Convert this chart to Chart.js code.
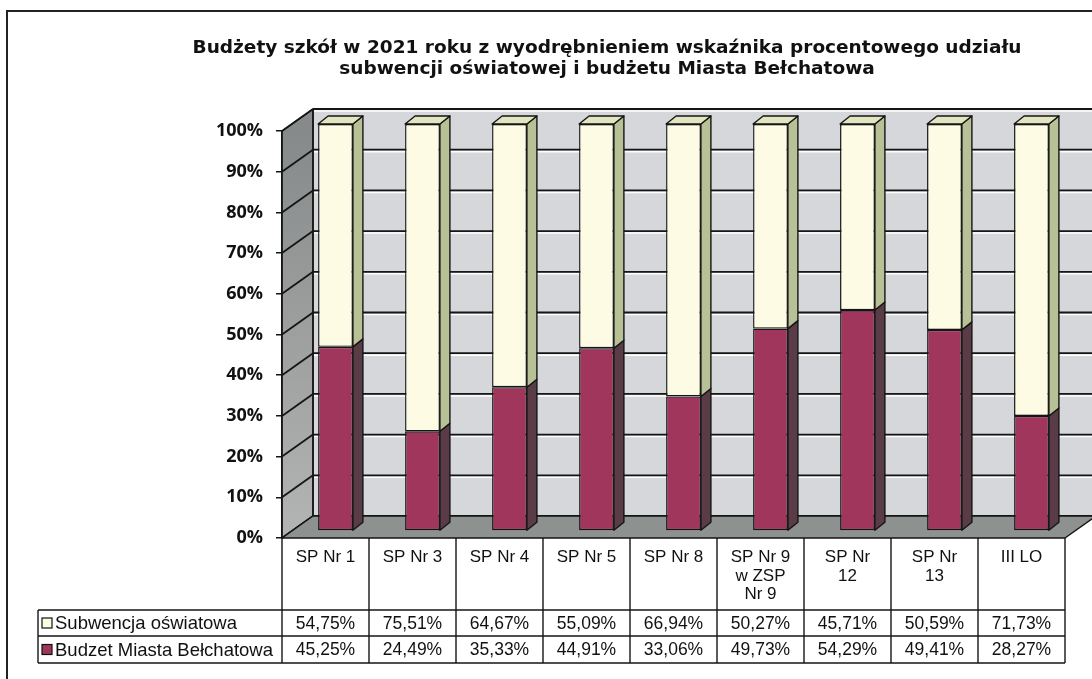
<!DOCTYPE html>
<html>
<head>
<meta charset="utf-8">
<title>Budżety szkół 2021</title>
<script src="https://cdn.jsdelivr.net/npm/chart.js@4.4.1/dist/chart.umd.min.js"></script>
<style>
  html, body { margin: 0; padding: 0; background: #fff; }
  canvas { display: block; }
</style>
</head>
<body>
<canvas id="budzetyChart" width="1092" height="679"></canvas>
<script>
const titleLines = [
  'Budżety szkół w 2021 roku z wyodrębnieniem wskaźnika procentowego udziału',
  'subwencji oświatowej i budżetu Miasta Bełchatowa'
];
const categories = [
  ['SP Nr 1'], ['SP Nr 3'], ['SP Nr 4'], ['SP Nr 5'], ['SP Nr 8'],
  ['SP Nr 9', 'w ZSP', 'Nr 9'], ['SP Nr', '12'], ['SP Nr', '13'], ['III LO']
];
const subwencja = [54.75, 75.51, 64.67, 55.09, 66.94, 50.27, 45.71, 50.59, 71.73];
const budzet = [45.25, 24.49, 35.33, 44.91, 33.06, 49.73, 54.29, 49.41, 28.27];
const seriesNames = ['Subwencja oświatowa', 'Budzet Miasta Bełchatowa'];

// 3D look: depth of the walls, and where the bars sit inside that depth
const WALL = { dx: 31, dy: -22 };
const BAR_SHIFT = { dx: 10, dy: -7 };
const BAR_DEPTH = { dx: 10, dy: -8 };

const COLORS = {
  budzet: { front: '#a0365c', side: '#5a3c47', top: '#7b3a52' },
  subwencja: { front: '#fefbe4', side: '#b8c096', top: '#e2e5bf' },
  backWall: '#d5d7db',
  floor: '#8d918f',
  line: '#151515'
};

const TABLE = { left: 38, row1: 610, row2: 636, bottom: 663 };

function fmt(v) {
  return v.toFixed(2).replace('.', ',') + '%';
}

function poly(ctx, pts, fill) {
  ctx.beginPath();
  ctx.moveTo(pts[0][0], pts[0][1]);
  for (let i = 1; i < pts.length; i++) ctx.lineTo(pts[i][0], pts[i][1]);
  ctx.closePath();
  if (fill) {
    ctx.fillStyle = fill;
    ctx.fill();
  }
  ctx.stroke();
}

function line(ctx, x1, y1, x2, y2) {
  ctx.beginPath();
  ctx.moveTo(x1, y1);
  ctx.lineTo(x2, y2);
  ctx.stroke();
}

// walls, floor and the gridlines on them
const wallsPlugin = {
  id: 'walls',
  beforeDraw(chart) {
    const { ctx, chartArea: a, scales: { y } } = chart;
    const w = chart.width, h = chart.height;
    ctx.save();
    ctx.fillStyle = '#fff';
    ctx.fillRect(0, 0, w, h);
    ctx.strokeStyle = COLORS.line;
    ctx.lineWidth = 1.5;
    ctx.lineJoin = 'round';

    // back wall
    ctx.fillStyle = COLORS.backWall;
    ctx.fillRect(a.left + WALL.dx, a.top + WALL.dy, a.right - a.left, a.bottom - a.top);

    // left wall
    const g = ctx.createLinearGradient(0, a.top, 0, a.bottom);
    g.addColorStop(0, '#878a8a');
    g.addColorStop(1, '#b3b5b4');
    poly(ctx, [
      [a.left, a.top], [a.left + WALL.dx, a.top + WALL.dy],
      [a.left + WALL.dx, a.bottom + WALL.dy], [a.left, a.bottom]
    ], g);

    // gridlines
    y.ticks.forEach(t => {
      const py = y.getPixelForValue(t.value);
      if (t.value > 0) {
        ctx.strokeStyle = '#ffffff';
        ctx.lineWidth = 1.5;
        line(ctx, a.left + WALL.dx + 1, py + WALL.dy + 2, w, py + WALL.dy + 2);
      }
      ctx.strokeStyle = COLORS.line;
      ctx.lineWidth = 1.8;
      line(ctx, a.left + WALL.dx, py + WALL.dy, w, py + WALL.dy);
      line(ctx, a.left, py, a.left + WALL.dx, py + WALL.dy);
    });

    // floor
    ctx.lineWidth = 1.5;
    poly(ctx, [
      [a.left, a.bottom], [a.right, a.bottom],
      [a.right + WALL.dx, a.bottom + WALL.dy], [a.left + WALL.dx, a.bottom + WALL.dy]
    ], COLORS.floor);
    line(ctx, a.left + WALL.dx, a.top + WALL.dy, a.left + WALL.dx, a.bottom + WALL.dy);
    ctx.restore();
  },

  // bar fronts are pushed into the middle of the depth
  beforeDatasetsDraw(chart) {
    chart.ctx.save();
    chart.ctx.translate(BAR_SHIFT.dx, BAR_SHIFT.dy);
  },

  afterDatasetsDraw(chart) {
    const ctx = chart.ctx;
    ctx.restore();
    ctx.save();
    ctx.strokeStyle = COLORS.line;
    ctx.lineWidth = 1.4;
    ctx.lineJoin = 'round';
    const last = chart.data.datasets.length - 1;
    chart.data.datasets.forEach((ds, di) => {
      const meta = chart.getDatasetMeta(di);
      meta.data.forEach(bar => {
        const { x, y, base, width } = bar.getProps(['x', 'y', 'base', 'width'], true);
        const xl = x - width / 2 + BAR_SHIFT.dx;
        const xr = x + width / 2 + BAR_SHIFT.dx;
        const yt = y + BAR_SHIFT.dy;
        const yb = base + BAR_SHIFT.dy;
        poly(ctx, [
          [xr, yt], [xr + BAR_DEPTH.dx, yt + BAR_DEPTH.dy],
          [xr + BAR_DEPTH.dx, yb + BAR_DEPTH.dy], [xr, yb]
        ], ds.sideColor);
        if (di === last) {
          poly(ctx, [
            [xl, yt], [xl + BAR_DEPTH.dx, yt + BAR_DEPTH.dy],
            [xr + BAR_DEPTH.dx, yt + BAR_DEPTH.dy], [xr, yt]
          ], ds.topColor);
        }
      });
    });
    ctx.restore();
  }
};

// title, frame and the data table under the plot
const tablePlugin = {
  id: 'dataTable',
  afterDraw(chart) {
    const { ctx, chartArea: a, scales: { x } } = chart;
    ctx.save();
    ctx.strokeStyle = '#222';
    ctx.lineWidth = 2;
    line(ctx, 7, 11, chart.width, 11);
    line(ctx, 7, 10, 7, chart.height);

    ctx.fillStyle = '#111';
    ctx.font = 'bold 18.5px "DejaVu Sans"';
    ctx.textAlign = 'center';
    ctx.textBaseline = 'middle';
    titleLines.forEach((t, i) => ctx.fillText(t, 607, 48 + i * 21));

    const n = categories.length;
    const colW = (a.right - a.left) / n;
    ctx.strokeStyle = COLORS.line;
    ctx.lineWidth = 1.4;
    for (let i = 0; i <= n; i++) {
      const px = a.left + i * colW;
      line(ctx, px, a.bottom, px, TABLE.bottom);
    }
    [TABLE.row1, TABLE.row2, TABLE.bottom].forEach(py => line(ctx, TABLE.left, py, a.right, py));
    line(ctx, TABLE.left, TABLE.row1, TABLE.left, TABLE.bottom);

    const rows = [
      { name: seriesNames[0], values: subwencja, key: COLORS.subwencja.front, y: (TABLE.row1 + TABLE.row2) / 2 },
      { name: seriesNames[1], values: budzet, key: COLORS.budzet.front, y: (TABLE.row2 + TABLE.bottom) / 2 }
    ];
    ctx.textBaseline = 'middle';
    rows.forEach(r => {
      ctx.fillStyle = r.key;
      ctx.fillRect(TABLE.left + 4, r.y - 5, 10, 10);
      ctx.lineWidth = 1.2;
      ctx.strokeStyle = '#111';
      ctx.strokeRect(TABLE.left + 4, r.y - 5, 10, 10);
      ctx.fillStyle = '#111';
      ctx.textAlign = 'left';
      ctx.font = '18.5px "Liberation Sans", Arial, sans-serif';
      ctx.fillText(r.name, TABLE.left + 17, r.y + 1);
      ctx.textAlign = 'center';
      ctx.font = '17.5px "Liberation Sans", Arial, sans-serif';
      r.values.forEach((v, i) => ctx.fillText(fmt(v), x.getPixelForValue(i), r.y + 1));
    });
    ctx.restore();
  }
};

new Chart(document.getElementById('budzetyChart'), {
  type: 'bar',
  data: {
    labels: categories,
    datasets: [
      {
        label: seriesNames[1],
        data: budzet,
        backgroundColor: COLORS.budzet.front,
        sideColor: COLORS.budzet.side,
        topColor: COLORS.budzet.top
      },
      {
        label: seriesNames[0],
        data: subwencja,
        backgroundColor: COLORS.subwencja.front,
        sideColor: COLORS.subwencja.side,
        topColor: COLORS.subwencja.top
      }
    ]
  },
  options: {
    responsive: false,
    animation: false,
    layout: { padding: { top: 131, right: 27, left: 0, bottom: 0 } },
    datasets: {
      bar: {
        barPercentage: 0.4,
        categoryPercentage: 1,
        borderColor: COLORS.line,
        borderWidth: 1.4,
        borderSkipped: false
      }
    },
    plugins: {
      legend: { display: false },
      tooltip: { enabled: false }
    },
    scales: {
      x: {
        stacked: true,
        afterFit(scale) { scale.height = 141; },
        grid: { display: false },
        border: { display: false },
        ticks: {
          color: '#111',
          maxRotation: 0,
          minRotation: 0,
          autoSkip: false,
          padding: 2,
          font: { family: '"Liberation Sans", Arial, sans-serif', size: 17, lineHeight: 1.1 }
        }
      },
      y: {
        stacked: true,
        min: 0,
        max: 100,
        afterFit(scale) { scale.width = 282; },
        grid: { drawOnChartArea: false, tickLength: 6, color: COLORS.line, lineWidth: 1.5 },
        border: { display: true, color: COLORS.line, width: 1.5 },
        ticks: {
          stepSize: 10,
          padding: 13,
          color: '#111',
          font: { family: '"Open Sans"', weight: 'bold', size: 18 },
          callback: v => v + '%'
        }
      }
    }
  },
  plugins: [wallsPlugin, tablePlugin]
});
</script>
</body>
</html>
